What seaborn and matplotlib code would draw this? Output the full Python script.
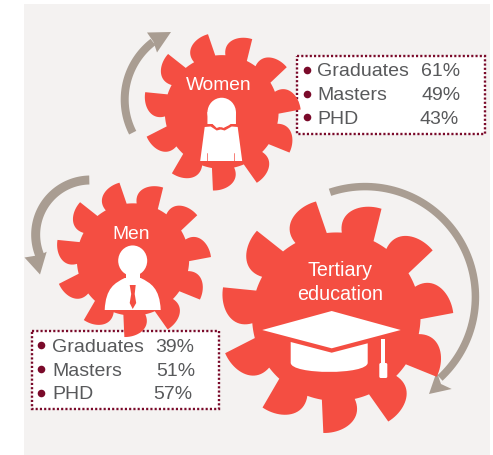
import numpy as np
import pandas as pd
import matplotlib.pyplot as plt
import seaborn as sns
from matplotlib.patches import Rectangle, Ellipse, Polygon, PathPatch, FancyBboxPatch
from matplotlib.path import Path

# data
levels = ["Graduates", "Masters", "PHD"]
women_pct = [61, 49, 43]
men_pct = [39, 51, 57]

# colours
RED = "#F44E42"
PANEL = "#F4F2F1"
ARROW = "#A99D92"
DARK = "#7A0A2A"
GREY = "#58595B"

sns.set_theme(style="white")
plt.rcParams["font.family"] = ["Liberation Sans", "DejaVu Sans"]

fig = plt.figure(figsize=(4.93, 4.55), dpi=100, facecolor="white")
ax = fig.add_axes([0, 0, 1, 1])
ax.set_xlim(0, 493)
ax.set_ylim(455, 0)  # pixel style coords
ax.axis("off")

ax.add_patch(Rectangle((24, 4), 466, 451, fc=PANEL, ec="none", zorder=0))


def polar(cx, cy, r, deg):
    # deg is clockwise from straight up
    a = np.radians(deg)
    return np.array([cx + r * np.sin(a), cy - r * np.cos(a)])


def gear(cx, cy, R, teeth=11, start=-10.0):
    # one fin shaped tooth = curved back edge, sharp tip, straight front edge
    rb = 0.72 * R
    step = 360.0 / teeth
    pts = []
    for i in range(teeth):
        a = start + i * step
        p0 = polar(cx, cy, rb, a - 19)
        p1 = polar(cx, cy, 0.91 * R, a - 21.5)
        p2 = polar(cx, cy, 1.0 * R, a - 10)
        p3 = polar(cx, cy, R, a)
        for t in np.linspace(0, 1, 24):
            pts.append((1 - t) ** 3 * p0 + 3 * (1 - t) ** 2 * t * p1 + 3 * (1 - t) * t ** 2 * p2 + t ** 3 * p3)
        for d in np.linspace(a + 3.5, a + step - 19, 8):
            pts.append(polar(cx, cy, rb, d))
    ax.add_patch(Polygon(np.array(pts), closed=True, fc=RED, ec="none", zorder=3))


def circle3(p0, p1, p2):
    # circle through three points
    A = 2 * np.array([np.subtract(p1, p0), np.subtract(p2, p0)])
    b = np.array([np.dot(p1, p1) - np.dot(p0, p0), np.dot(p2, p2) - np.dot(p0, p0)])
    c = np.linalg.solve(A, b)
    return c, np.linalg.norm(np.subtract(p0, c))


def arc_arrow(tail, mid, end, head, width=8):
    c, r = circle3(tail, mid, end)
    a0 = np.arctan2(tail[1] - c[1], tail[0] - c[0])
    a1 = np.arctan2(end[1] - c[1], end[0] - c[0])
    am = np.arctan2(mid[1] - c[1], mid[0] - c[0])
    # go the way that passes through mid
    d = (a1 - a0) % (2 * np.pi)
    if ((am - a0) % (2 * np.pi)) > d:
        d = d - 2 * np.pi
    ang = a0 + np.linspace(0, 1, 80) * d
    outer = np.c_[c[0] + (r + width / 2) * np.cos(ang), c[1] + (r + width / 2) * np.sin(ang)]
    inner = np.c_[c[0] + (r - width / 2) * np.cos(ang), c[1] + (r - width / 2) * np.sin(ang)]
    ax.add_patch(Polygon(np.vstack([outer, inner[::-1]]), closed=True, fc=ARROW, ec="none", zorder=2))
    ax.add_patch(Polygon(head, closed=True, fc=ARROW, ec="none", zorder=2))


def info_box(x0, y0, x1, y1, rows_y, text_x, bullet_x, right_x, pct):
    ax.add_patch(Rectangle((x0, y0), x1 - x0, y1 - y0, fc="white", ec="none", zorder=1))
    ax.add_patch(Rectangle((x0, y0), x1 - x0, y1 - y0, fc="none", ec=DARK, lw=1.7,
                           ls=(0, (0.9, 0.9)), zorder=2))
    df = pd.DataFrame({"x": [bullet_x] * len(levels), "y": rows_y})
    sns.scatterplot(data=df, x="x", y="y", ax=ax, color=DARK, s=30, linewidth=0, zorder=5, legend=False)
    for lab, v, y, r in zip(levels, pct, rows_y, right_x):
        ax.text(text_x, y, lab, fontsize=14, color=GREY, va="center_baseline", ha="left", zorder=5)
        ax.text(r, y, f"{v}%", fontsize=14, color=GREY, va="center_baseline", ha="right", zorder=5)


def woman(cx):
    # hair = dome on a short block
    ax.add_patch(Ellipse((cx, 112.5), 28.5, 29.5, fc="white", ec="none", zorder=4))
    verts = [(cx - 14.25, 112), (cx + 14.25, 112), (cx + 14.25, 124), (cx + 8, 124),
             (cx + 2, 128), (cx - 1, 126.5), (cx - 5, 128), (cx - 9, 124), (cx - 14.25, 124)]
    ax.add_patch(Polygon(verts, closed=True, fc="white", ec="none", zorder=4))
    body = [(cx - 17, 127), (cx - 11, 126.5), (cx - 5, 130.5), (cx - 1, 129.5), (cx + 3, 130.5), (cx + 10, 126.5),
            (cx + 16, 127), (cx + 20.5, 161), (cx - 21.5, 161)]
    ax.add_patch(Polygon(body, closed=True, fc="white", ec="none", zorder=4))
    for dx in (-15, 12):
        ax.plot([cx + dx, cx + dx], [153, 161], color=RED, lw=0.5, zorder=5)


def man(cx):
    ax.add_patch(Ellipse((cx, 260.7), 29, 30.5, fc="white", ec="none", zorder=4))
    ax.add_patch(Rectangle((cx - 7, 270), 14, 12, fc="white", ec="none", zorder=4))
    verts = [(cx - 28, 310), (cx - 27, 288), (cx - 18, 283), (cx - 8, 278),
             (cx + 8, 278), (cx + 18, 283), (cx + 27, 288), (cx + 28, 310), (cx - 28, 310)]
    codes = [Path.MOVETO, Path.CURVE4, Path.CURVE4, Path.CURVE4, Path.LINETO,
             Path.CURVE4, Path.CURVE4, Path.CURVE4, Path.CLOSEPOLY]
    ax.add_patch(PathPatch(Path(verts, codes), fc="white", ec="none", zorder=4))
    tie = [(cx - 3, 285), (cx + 3, 285), (cx + 2, 294), (cx + 3.5, 303), (cx, 309), (cx - 3, 303), (cx - 1.5, 294)]
    ax.add_patch(Polygon(tie, closed=True, fc=RED, ec="none", zorder=5))


def cap(cx):
    board = [(cx - 69.5, 330), (cx, 311), (cx + 69, 330), (cx, 348.3)]
    ax.add_patch(Polygon(board, closed=True, fc="white", ec="none", zorder=4))
    verts = [(cx - 41, 342), (cx, 352.7), (cx + 36, 343.3), (cx + 36, 362.7),
             (cx + 36, 375), (cx - 41, 375), (cx - 41, 362.7), (cx - 41, 342)]
    codes = [Path.MOVETO, Path.LINETO, Path.LINETO, Path.LINETO,
             Path.CURVE4, Path.CURVE4, Path.CURVE4, Path.CLOSEPOLY]
    ax.add_patch(PathPatch(Path(verts, codes), fc="white", ec="none", zorder=4))
    ax.add_patch(Rectangle((381, 339), 4.3, 25, fc="white", ec="none", zorder=4))
    ax.add_patch(FancyBboxPatch((380.3, 364), 6, 13, boxstyle="round,pad=1,rounding_size=1.5",
                                fc="white", ec="none", zorder=4))


# arrows
arc_arrow((132.7, 132.7), (125, 93), (153, 42), [(171, 32), (147, 32.5), (153.5, 42), (157, 52.5)])
arc_arrow((89.3, 180), (35.7, 233), (40, 256), [(40, 274.5), (24.5, 257.5), (40, 255), (46.7, 251.7)], width=9)
arc_arrow((330, 192.3), (475, 306.7), (440, 378), [(429, 394), (436.7, 371.7), (441, 384), (451.7, 389)], width=7.5)

# info boxes go under the gear teeth
info_box(296.7, 56, 485, 134, [70, 94, 117], 317.3, 306.7, [460, 460.7, 458.7], women_pct)
info_box(31.7, 331, 219, 409, [345, 369, 392.7], 52.3, 41, [194, 195, 192.7], men_pct)

# gears
gear(221.7, 112, 79)
gear(133, 259.5, 78)
gear(336.3, 316.7, 117)

woman(221.7)
man(132.7)
cap(331.7)

ax.text(219, 84, "Women", fontsize=13.8, color="white", ha="center", va="center_baseline", zorder=6)
ax.text(131, 232.7, "Men", fontsize=13.8, color="white", ha="center", va="center_baseline", zorder=6)
ax.text(339.7, 269, "Tertiary", fontsize=14.2, color="white", ha="center", va="center_baseline", zorder=6)
ax.text(339.7, 293, "education", fontsize=14.2, color="white", ha="center", va="center_baseline", zorder=6)

fig.savefig("out.png", dpi=100, facecolor="white")
